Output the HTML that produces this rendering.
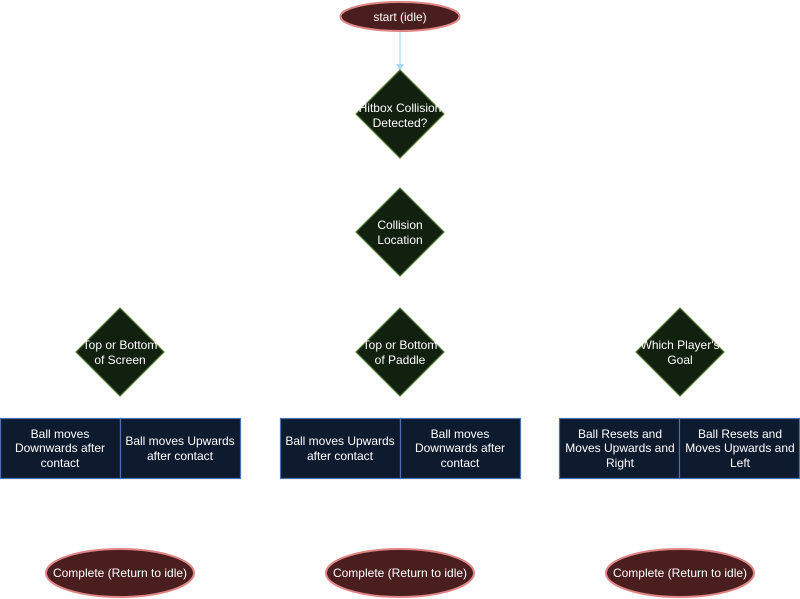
<!DOCTYPE html>
<html><head><meta charset="utf-8"><style>
html,body{margin:0;padding:0;background:#fff;width:800px;height:599px;overflow:hidden}
svg text{font-family:"Liberation Sans",Arial,sans-serif;font-size:12px;fill:#fff;text-anchor:middle}
</style></head><body>
<svg width="800" height="599" viewBox="0 0 800 599" xmlns="http://www.w3.org/2000/svg">
<defs>
<g id="d"><polygon points="0,-44 44,0 0,44 -44,0" fill="#11200f" stroke="#4f7a33" stroke-width="1.2"/></g>
</defs>
<!-- start -->
<ellipse cx="400" cy="16.5" rx="59.5" ry="14.5" fill="#4a1e1e" stroke="#e08585" stroke-width="2"/>
<text x="400" y="21">start (idle)</text>
<line x1="400" y1="32" x2="400" y2="66" stroke="#a8d8f8" stroke-width="1.2"/>
<polygon points="396,64 404,64 400,71" fill="#a8d8f8"/>
<!-- diamonds -->
<use href="#d" x="400" y="114"/>
<text x="400" y="112">Hitbox Collision</text><text x="400" y="127">Detected?</text>
<use href="#d" x="400" y="232"/>
<text x="400" y="229">Collision</text><text x="400" y="244">Location</text>
<use href="#d" x="120" y="352"/>
<text x="120" y="349">Top or Bottom</text><text x="120" y="364">of Screen</text>
<use href="#d" x="400" y="352"/>
<text x="400" y="349">Top or Bottom</text><text x="400" y="364">of Paddle</text>
<use href="#d" x="680" y="352"/>
<text x="680" y="349">Which Player's</text><text x="680" y="364">Goal</text>
<!-- boxes -->
<g fill="#0e1a2e" stroke="#4a70b0" stroke-width="1.2">
<rect x="0.5" y="418.5" width="120" height="60"/><rect x="120.5" y="418.5" width="120" height="60"/>
<rect x="280.5" y="418.5" width="120" height="60"/><rect x="400.5" y="418.5" width="120" height="60"/>
<rect x="559.5" y="418.5" width="120" height="60"/><rect x="679.5" y="418.5" width="120" height="60"/>
</g>
<text x="60" y="438">Ball moves</text><text x="60" y="452">Downwards after</text><text x="60" y="467">contact</text>
<text x="180" y="445">Ball moves Upwards</text><text x="180" y="460">after contact</text>
<text x="340" y="445">Ball moves Upwards</text><text x="340" y="460">after contact</text>
<text x="460" y="438">Ball moves</text><text x="460" y="452">Downwards after</text><text x="460" y="467">contact</text>
<text x="620" y="438">Ball Resets and</text><text x="620" y="452">Moves Upwards and</text><text x="620" y="467">Right</text>
<text x="740" y="438">Ball Resets and</text><text x="740" y="452">Moves Upwards and</text><text x="740" y="467">Left</text>
<!-- complete -->
<g fill="#4a1e1e" stroke="#e08585" stroke-width="2">
<ellipse cx="120" cy="573" rx="74" ry="24"/>
<ellipse cx="400" cy="573" rx="74" ry="24"/>
<ellipse cx="680" cy="573" rx="74" ry="24"/>
</g>
<text x="120" y="577">Complete (Return to idle)</text>
<text x="400" y="577">Complete (Return to idle)</text>
<text x="680" y="577">Complete (Return to idle)</text>
</svg>
</body></html>
